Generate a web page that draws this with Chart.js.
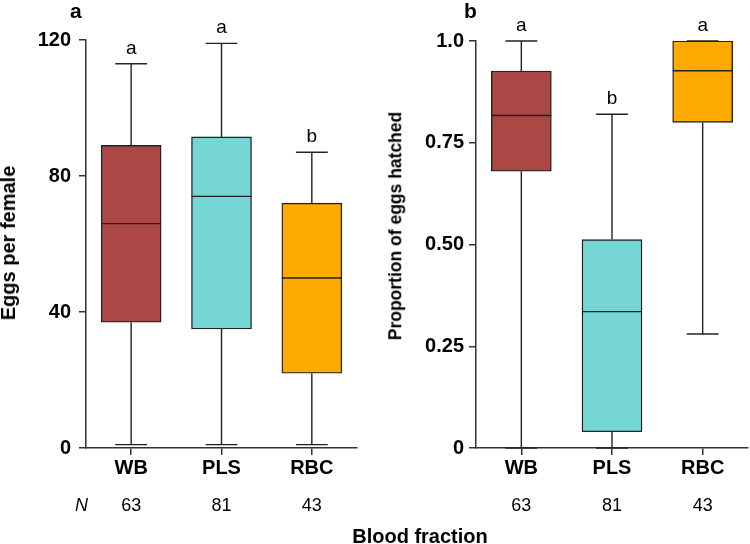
<!DOCTYPE html>
<html>
<head>
<meta charset="utf-8">
<script src="https://cdn.jsdelivr.net/npm/chart.js@4.4.1/dist/chart.umd.min.js"></script>
<style>
  body { margin: 0; background: #fff; }
  #wrap { position: relative; width: 750px; height: 544px; font-family: 'Liberation Sans', Arial, sans-serif; color: #000; }
  canvas { position: absolute; top: 0; }
  .txt { position: absolute; line-height: 1; white-space: nowrap; }
  .ytitle { position: absolute; font-weight: bold; line-height: 1; white-space: nowrap; transform: translate(-50%, -50%) rotate(-90deg); }
</style>
</head>
<body>
<div id="wrap">
  <canvas id="eggs" width="375" height="544" style="left:0"></canvas>
  <canvas id="hatch" width="375" height="544" style="left:375px"></canvas>
  <div class="txt" style="left:70px; top:0; font-size:21px; font-weight:bold">a</div>
  <div class="txt" style="left:464px; top:0; font-size:21px; font-weight:bold">b</div>
  <div class="ytitle" style="left:8px; top:243px; font-size:20px">Eggs per female</div>
  <div class="ytitle" style="left:396px; top:226px; font-size:17.5px">Proportion of eggs hatched</div>
  <div class="txt" style="left:75px; top:496px; font-size:18px; font-style:italic">N</div>
  <div class="txt" style="left:270px; width:300px; text-align:center; top:526px; font-size:20px; font-weight:bold">Blood fraction</div>
</div>
<script>
// groups and sample sizes
const fractions = ['WB', 'PLS', 'RBC'];
const sampleSizes = [63, 81, 43];
const fillColors = ['#AB4744', '#76D5D5', '#FFAA00'];

// panel a: eggs per female
const eggMin = [1, 1, 1];
const eggQ1 = [37, 35, 22];
const eggMedian = [66, 74, 50];
const eggQ3 = [89, 91.5, 72];
const eggMax = [113, 119, 87];
const eggLetters = ['a', 'a', 'b'];
const eggTicks = [0, 40, 80, 120];
const eggTickLabels = ['0', '40', '80', '120'];

// panel b: proportion of eggs hatched
const hatchMin = [0, 0, 0.28];
const hatchQ1 = [0.68, 0.04, 0.80];
const hatchMedian = [0.817, 0.335, 0.927];
const hatchQ3 = [0.926, 0.512, 1.0];
const hatchMax = [1.0, 0.82, 1.0];
const hatchLetters = ['a', 'b', 'a'];
const hatchTicks = [0, 0.25, 0.5, 0.75, 1.0];
const hatchTickLabels = ['0', '0.25', '0.50', '0.75', '1.0'];

const FONT = "'Liberation Sans', Arial, sans-serif";
const LINE = '#222';

// whiskers, medians and letters on top of the floating bars
const boxWhisker = {
  id: 'boxWhisker',
  afterDatasetsDraw(chart, args, opts) {
    const { ctx, scales: { x, y } } = chart;
    const bars = chart.getDatasetMeta(0).data;
    ctx.save();
    ctx.strokeStyle = LINE;
    ctx.lineWidth = 1.4;
    ctx.fillStyle = '#000';
    ctx.font = '19px ' + FONT;
    ctx.textAlign = 'center';
    ctx.textBaseline = 'alphabetic';
    opts.mins.forEach((mn, i) => {
      const cx = x.getPixelForValue(i);
      const half = bars[i].width / 2;
      const cap = half * 0.53;
      const yMin = y.getPixelForValue(mn);
      const yMax = y.getPixelForValue(opts.maxs[i]);
      const yQ1 = y.getPixelForValue(opts.q1[i]);
      const yQ3 = y.getPixelForValue(opts.q3[i]);
      const yMed = y.getPixelForValue(opts.medians[i]);
      ctx.beginPath();
      ctx.moveTo(cx, yQ3); ctx.lineTo(cx, yMax);
      ctx.moveTo(cx - cap, yMax); ctx.lineTo(cx + cap, yMax);
      ctx.moveTo(cx, yQ1); ctx.lineTo(cx, yMin);
      ctx.moveTo(cx - cap, yMin); ctx.lineTo(cx + cap, yMin);
      ctx.moveTo(cx - half, yMed); ctx.lineTo(cx + half, yMed);
      ctx.stroke();
      ctx.fillText(opts.letters[i], cx, yMax - 10);
    });
    ctx.restore();
  }
};

function makePanel(id, d) {
  return new Chart(document.getElementById(id), {
    type: 'bar',
    data: {
      labels: fractions,
      datasets: [{
        data: d.q1.map((v, i) => [v, d.q3[i]]),
        backgroundColor: fillColors,
        borderColor: LINE,
        borderWidth: 1.4,
        borderSkipped: false,
        barThickness: 60
      }]
    },
    options: {
      responsive: false,
      animation: false,
      devicePixelRatio: 1,
      layout: { padding: { top: d.top, right: d.right, bottom: 30, left: 0 } },
      plugins: {
        legend: { display: false },
        tooltip: { enabled: false },
        boxWhisker: { mins: d.mins, q1: d.q1, medians: d.medians, q3: d.q3, maxs: d.maxs, letters: d.letters }
      },
      scales: {
        x: {
          offset: true,
          grid: { drawOnChartArea: false, offset: false, tickLength: 7, color: '#333', lineWidth: 1.5 },
          border: { color: '#333', width: 1.5 },
          ticks: { color: '#000', padding: 1, font: { family: FONT, size: 20, weight: 'bold' } },
          afterFit: s => { s.height = 36; }
        },
        xN: {
          type: 'category',
          position: 'bottom',
          labels: sampleSizes.map(String),
          offset: true,
          grid: { display: false, drawTicks: false },
          border: { display: false },
          ticks: { color: '#000', padding: 11, font: { family: FONT, size: 18 } },
          afterFit: s => { s.height = 30; }
        },
        y: {
          min: d.ticks[0],
          max: d.ticks[d.ticks.length - 1],
          afterBuildTicks: s => { s.ticks = d.ticks.map(v => ({ value: v })); },
          grid: { drawOnChartArea: false, tickLength: 7, color: '#333', lineWidth: 1.5 },
          border: { color: '#333', width: 1.5 },
          ticks: {
            color: '#000', padding: d.tickPad,
            font: { family: FONT, size: 20, weight: 'bold' },
            callback: (v, i) => d.tickLabels[i]
          },
          afterFit: s => { s.width = d.axisW; }
        }
      }
    },
    plugins: [boxWhisker]
  });
}

makePanel('eggs', {
  mins: eggMin, q1: eggQ1, medians: eggMedian, q3: eggQ3, maxs: eggMax, letters: eggLetters,
  ticks: eggTicks, tickLabels: eggTickLabels, top: 40, right: 18, axisW: 86, tickPad: 8
});
makePanel('hatch', {
  mins: hatchMin, q1: hatchQ1, medians: hatchMedian, q3: hatchQ3, maxs: hatchMax, letters: hatchLetters,
  ticks: hatchTicks, tickLabels: hatchTickLabels, top: 41, right: 2, axisW: 101, tickPad: 5
});
</script>
</body>
</html>
